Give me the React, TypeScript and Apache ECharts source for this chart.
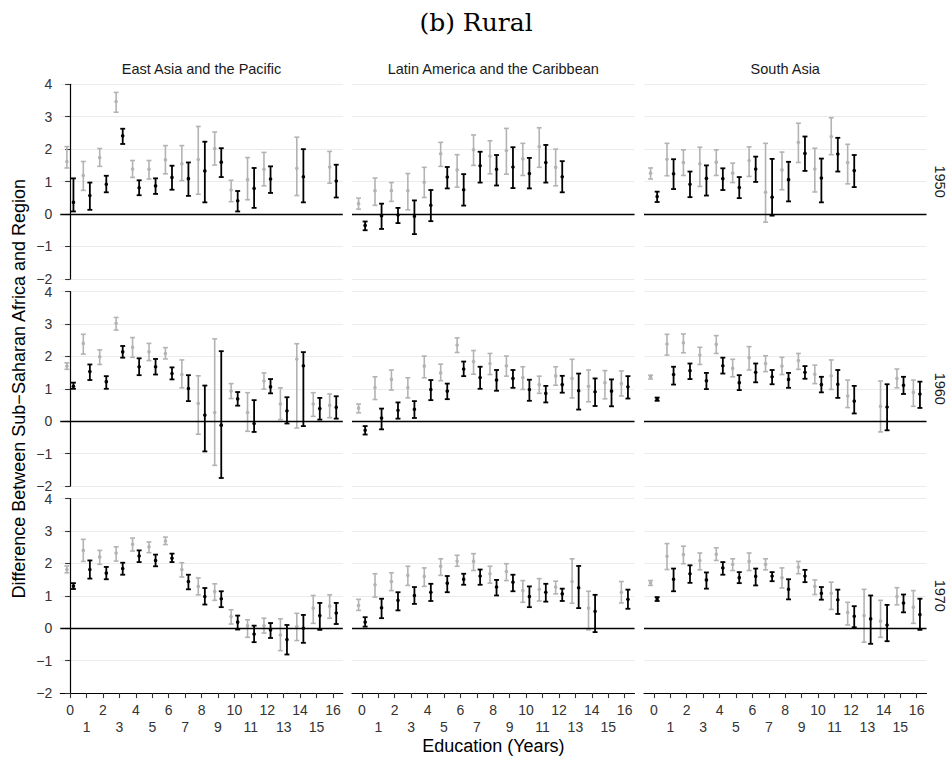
import React, { useEffect, useRef } from "react";
import * as echarts from "echarts";

// ---------- labels ----------
const chartTitle = "(b) Rural";
const regions = ["East Asia and the Pacific", "Latin America and the Caribbean", "South Asia"];
const cohorts = ["1950", "1960", "1970"];
const educationYears = [0, 1, 2, 3, 4, 5, 6, 7, 8, 9, 10, 11, 12, 13, 14, 15, 16];
const yTicks = [-2, -1, 0, 1, 2, 3, 4];
const yTitle = "Difference Between Sub\u2212Saharan Africa and Region";
const xTitle = "Education (Years)";

// ---------- data: [estimate, lower, upper] per education year ----------
// gray = first estimate, black = second estimate
const eap1950Gray = [[1.62,1.42,2.08],[1.19,0.73,1.62],[1.74,1.47,2.02],[3.47,3.14,3.75],[1.39,1.13,1.65],[1.38,1.08,1.65],[1.67,1.24,2.11],[1.55,1.03,2.11],[1.68,0.61,2.70],[2.02,1.51,2.53],[0.74,0.38,1.04],[1.06,0.44,1.74],[1.38,0.87,1.90],null,[1.41,0.57,2.37],null,[1.45,0.95,1.93]];
const eap1950Black = [[0.36,0.08,1.10],[0.57,0.13,0.97],[0.92,0.67,1.18],[2.41,2.16,2.63],[0.81,0.58,1.04],[0.87,0.62,1.10],[1.13,0.75,1.49],[1.09,0.56,1.59],[1.33,0.36,2.23],[1.60,1.14,2.03],[0.41,0.08,0.71],[0.79,0.19,1.42],[1.08,0.65,1.47],null,[1.15,0.36,2.00],null,[1.02,0.51,1.52]];
const lac1950Gray = [[0.32,0.15,0.49],[0.72,0.27,1.11],[0.72,0.39,0.97],[0.72,0.13,1.25],[0.98,0.51,1.44],[1.86,1.47,2.21],[1.36,0.83,1.83],[1.98,1.50,2.44],[1.79,1.24,2.26],[1.96,1.23,2.64],[1.70,1.19,2.18],[2.08,1.44,2.66],[1.44,0.87,2.00],null,null,null,null];
const lac1950Black = [[-0.35,-0.50,-0.23],[-0.05,-0.46,0.32],[-0.03,-0.28,0.19],[-0.07,-0.62,0.42],[0.27,-0.22,0.74],[1.14,0.79,1.45],[0.75,0.26,1.23],[1.49,0.97,1.92],[1.38,0.88,1.82],[1.45,0.80,2.06],[1.25,0.79,1.73],[1.59,0.97,2.13],[1.15,0.67,1.63],null,null,null,null];
const sa1950Gray = [[1.26,1.08,1.42],[1.69,1.18,2.18],[1.59,1.19,1.98],[1.55,0.85,2.06],[1.60,1.19,1.98],[1.26,0.97,1.57],[1.65,1.16,2.07],[0.67,-0.25,2.18],[1.36,0.75,1.91],[2.21,1.59,2.80],[1.39,0.68,2.03],[2.39,1.83,2.97],[1.59,0.93,2.15],null,null,null,null];
const sa1950Black = [[0.54,0.37,0.69],[1.24,0.77,1.69],[0.92,0.52,1.31],[1.10,0.57,1.50],[1.09,0.74,1.41],[0.82,0.49,1.14],[1.39,0.99,1.77],[0.52,-0.05,1.70],[1.06,0.39,1.61],[1.87,1.33,2.39],[1.11,0.36,1.71],[1.85,1.31,2.35],[1.34,0.83,1.82],null,null,null,null];

const eap1960Gray = [[1.70,1.60,1.80],[2.40,2.07,2.68],[1.99,1.75,2.20],[3.02,2.81,3.20],[2.28,1.97,2.58],[2.14,1.87,2.40],[2.09,1.92,2.27],[1.44,1.03,1.89],[0.55,-0.40,1.40],[0.27,-1.36,2.54],[0.93,0.70,1.16],[0.27,-0.31,0.88],[1.24,0.99,1.49],[0.53,0.05,1.03],[1.92,-0.21,2.39],[0.53,0.15,0.88],[0.49,0.11,0.84]];
const eap1960Black = [[1.08,1.00,1.19],[1.53,1.27,1.75],[1.22,1.00,1.39],[2.14,1.96,2.32],[1.68,1.42,1.94],[1.68,1.44,1.92],[1.47,1.29,1.66],[1.01,0.62,1.42],[0.19,-0.93,1.10],[-0.12,-1.75,2.16],[0.69,0.48,0.90],[-0.07,-0.33,0.65],[1.06,0.86,1.30],[0.32,-0.07,0.74],[1.71,-0.15,2.13],[0.39,0.05,0.72],[0.43,0.08,0.77]];
const lac1960Gray = [[0.41,0.26,0.53],[1.04,0.67,1.37],[1.29,0.96,1.58],[1.04,0.72,1.34],[1.70,1.34,2.01],[1.49,1.25,1.76],[2.35,2.12,2.57],[1.84,1.45,2.18],[1.78,1.44,2.09],[1.71,1.39,2.01],[1.35,0.98,1.68],[1.13,0.86,1.39],[1.40,1.11,1.68],[1.32,0.72,1.91],[1.08,0.60,1.58],[1.19,0.69,1.56],[1.16,0.78,1.55]];
const lac1960Black = [[-0.28,-0.41,-0.15],[0.10,-0.25,0.39],[0.34,0.08,0.58],[0.37,0.10,0.62],[0.98,0.65,1.27],[0.93,0.68,1.16],[1.61,1.39,1.84],[1.35,1.00,1.68],[1.27,0.94,1.58],[1.32,1.03,1.58],[0.98,0.63,1.28],[0.86,0.58,1.09],[1.13,0.88,1.40],[0.94,0.36,1.47],[0.91,0.47,1.32],[0.93,0.46,1.29],[1.06,0.70,1.39]];
const sa1960Gray = [[1.37,1.30,1.42],[2.38,2.04,2.68],[2.42,2.11,2.69],[2.04,1.75,2.28],[2.37,2.09,2.64],[1.63,1.37,1.91],[1.96,1.58,2.30],[1.78,1.53,2.02],[1.70,1.44,1.97],[1.87,1.60,2.09],[1.45,1.16,1.73],[1.40,0.98,1.89],[0.78,0.42,1.27],null,[0.46,-0.33,1.24],[1.32,1.03,1.61],[0.89,0.46,1.27]];
const sa1960Black = [[0.68,0.63,0.73],[1.44,1.13,1.68],[1.56,1.30,1.78],[1.25,0.99,1.49],[1.71,1.47,1.96],[1.19,0.96,1.42],[1.51,1.20,1.78],[1.37,1.14,1.58],[1.29,1.03,1.49],[1.51,1.31,1.70],[1.13,0.89,1.37],[1.14,0.72,1.58],[0.62,0.24,1.09],null,[0.44,-0.28,1.14],[1.11,0.84,1.37],[0.84,0.41,1.22]];

const eap1970Gray = [[1.81,1.71,1.92],[2.40,2.06,2.74],[2.20,1.97,2.40],[2.32,2.07,2.51],[2.59,2.38,2.78],[2.51,2.33,2.66],[2.69,2.58,2.81],[1.81,1.58,2.02],[1.29,1.03,1.55],[1.13,0.86,1.37],[0.36,0.13,0.57],[0.08,-0.28,0.26],[0.08,-0.15,0.31],[-0.21,-0.69,0.29],[0.05,-0.38,0.46],[0.62,0.15,1.01],[0.68,0.31,1.03]];
const eap1970Black = [[1.30,1.21,1.39],[1.81,1.53,2.09],[1.70,1.51,1.89],[1.84,1.65,2.02],[2.23,2.04,2.40],[2.09,1.91,2.27],[2.16,2.04,2.30],[1.44,1.20,1.65],[0.98,0.73,1.24],[0.91,0.65,1.14],[0.19,-0.04,0.39],[-0.18,-0.43,0.08],[-0.05,-0.30,0.16],[-0.35,-0.81,0.10],[0.00,-0.45,0.41],[0.39,-0.05,0.78],[0.47,0.13,0.78]];
const lac1970Gray = [[0.70,0.55,0.89],[1.34,0.96,1.68],[1.44,1.16,1.71],[1.63,1.32,1.91],[1.60,1.29,1.86],[1.91,1.63,2.14],[2.07,1.91,2.25],[2.06,1.78,2.30],[1.68,1.39,1.91],[1.75,1.47,1.99],[1.16,0.80,1.47],[1.20,0.84,1.53],[1.27,1.06,1.45],[1.44,0.77,2.14],[0.62,-0.05,1.14],null,[1.11,0.78,1.44]];
const lac1970Black = [[0.19,0.05,0.34],[0.63,0.31,0.91],[0.86,0.55,1.11],[1.01,0.75,1.27],[1.11,0.84,1.37],[1.39,1.11,1.61],[1.51,1.34,1.68],[1.61,1.34,1.81],[1.27,1.01,1.49],[1.42,1.14,1.65],[0.98,0.65,1.29],[1.11,0.82,1.37],[1.06,0.84,1.22],[1.25,0.62,1.92],[0.52,-0.12,1.03],null,[0.89,0.60,1.19]];
const sa1970Gray = [[1.40,1.32,1.47],[2.22,1.81,2.61],[2.27,1.99,2.53],[2.09,1.80,2.32],[2.28,2.09,2.48],[1.97,1.78,2.14],[2.06,1.78,2.32],[1.97,1.80,2.14],[1.56,1.24,1.86],[1.89,1.68,2.06],[1.29,1.04,1.49],[1.08,0.58,1.42],[0.49,0.10,0.80],[0.39,-0.43,1.20],[0.22,-0.28,0.86],[0.98,0.72,1.25],[0.65,0.15,1.16]];
const sa1970Black = [[0.91,0.84,0.96],[1.51,1.14,1.84],[1.68,1.40,1.94],[1.49,1.22,1.72],[1.86,1.65,2.04],[1.56,1.39,1.73],[1.60,1.32,1.84],[1.61,1.45,1.73],[1.20,0.89,1.51],[1.61,1.42,1.80],[1.08,0.88,1.27],[0.88,0.44,1.19],[0.37,0.03,0.68],[0.29,-0.48,1.01],[0.10,-0.40,0.72],[0.78,0.49,1.04],[0.42,-0.05,0.91]];

// rows = cohorts, columns = regions
const panels = [
  [[eap1950Gray, eap1950Black], [lac1950Gray, lac1950Black], [sa1950Gray, sa1950Black]],
  [[eap1960Gray, eap1960Black], [lac1960Gray, lac1960Black], [sa1960Gray, sa1960Black]],
  [[eap1970Gray, eap1970Black], [lac1970Gray, lac1970Black], [sa1970Gray, sa1970Black]],
];

// ---------- layout / style ----------
const PANEL_LEFT = [60.3, 352, 644];
const PANEL_W = 282.5;
const PANEL_TOP = [84.3, 291.5, 498.5];
const PANEL_H = 194.6;
const GRAY = "#b3b3b3";
const BLACK = "#000000";
const DODGE = 0.2;
const CAP = 0.3;
const SANS = "Liberation Sans, Arial, sans-serif";
const TICK_TEXT = "#333333";

function makeRender(offset: number, color: string, lw: number) {
  return (params: any, api: any) => {
    const x = api.value(0) + offset;
    const pE = api.coord([x, api.value(1)]);
    const pL = api.coord([x, api.value(2)]);
    const pH = api.coord([x, api.value(3)]);
    const half = api.size([CAP, 0])[0] / 2;
    const style = { stroke: color, lineWidth: lw, fill: null };
    return {
      type: "group",
      children: [
        { type: "line", shape: { x1: pL[0], y1: pL[1], x2: pH[0], y2: pH[1] }, style },
        { type: "line", shape: { x1: pL[0] - half, y1: pL[1], x2: pL[0] + half, y2: pL[1] }, style },
        { type: "line", shape: { x1: pH[0] - half, y1: pH[1], x2: pH[0] + half, y2: pH[1] }, style },
        { type: "circle", shape: { cx: pE[0], cy: pE[1], r: 1.8 }, style: { fill: color, stroke: null } },
      ],
    };
  };
}

function toRows(arr: any[]) {
  const out: number[][] = [];
  educationYears.forEach((e, k) => {
    const r = arr[k];
    if (r) out.push([e, r[0], r[1], r[2]]);
  });
  return out;
}

function buildOption() {
  const grid: any[] = [];
  const xAxis: any[] = [];
  const yAxis: any[] = [];
  const series: any[] = [];
  const graphic: any[] = [];

  for (let r = 0; r < 3; r++) {
    for (let c = 0; c < 3; c++) {
      const i = r * 3 + c;
      const isBottom = r === 2;
      const isLeft = c === 0;
      grid.push({ left: PANEL_LEFT[c], top: PANEL_TOP[r], width: PANEL_W, height: PANEL_H, containLabel: false });
      xAxis.push({
        gridIndex: i,
        type: "value",
        min: -0.6,
        max: 16.6,
        splitLine: { show: false },
        axisLine: { show: isBottom, onZero: false, lineStyle: { color: BLACK, width: 1.2 } },
        axisTick: { show: isBottom, customValues: educationYears, length: 5, lineStyle: { color: "#333333", width: 1.1 } },
        axisLabel: {
          show: isBottom,
          customValues: educationYears,
          margin: 8,
          lineHeight: 17.5,
          fontSize: 14,
          fontFamily: SANS,
          color: TICK_TEXT,
          formatter: (v: number) => {
            const n = Math.round(v);
            return n % 2 === 1 ? "\n" + n : String(n);
          },
        },
      });
      yAxis.push({
        gridIndex: i,
        type: "value",
        min: yTicks[0],
        max: yTicks[yTicks.length - 1],
        interval: 1,
        splitLine: { show: true, lineStyle: { color: "#ebebeb", width: 1.1 } },
        axisLine: { show: isLeft, lineStyle: { color: BLACK, width: 1.2 } },
        axisTick: { show: isLeft, length: 5, lineStyle: { color: "#333333", width: 1.1 } },
        axisLabel: {
          show: isLeft,
          margin: 8,
          fontSize: 14,
          fontFamily: SANS,
          color: TICK_TEXT,
          formatter: (v: number) => String(v).replace("-", "\u2212"),
        },
      });
      const [grayArr, blackArr] = panels[r][c];
      series.push({
        type: "custom",
        xAxisIndex: i,
        yAxisIndex: i,
        renderItem: makeRender(-DODGE, GRAY, 1.6),
        encode: { x: 0, y: [1, 2, 3] },
        data: toRows(grayArr),
        z: 2,
        markLine: {
          silent: true,
          symbol: ["none", "none"],
          label: { show: false },
          lineStyle: { color: BLACK, width: 1.3, type: "solid" },
          data: [{ yAxis: 0 }],
        },
      });
      series.push({
        type: "custom",
        xAxisIndex: i,
        yAxisIndex: i,
        renderItem: makeRender(DODGE, BLACK, 1.8),
        encode: { x: 0, y: [1, 2, 3] },
        data: toRows(blackArr),
        z: 3,
      });
    }
  }

  const txt = (text: string, x: number, y: number, font: string, rotation = 0, fill = "#1a1a1a") => ({
    type: "text",
    x,
    y,
    rotation,
    style: {
      text,
      font,
      fill,
      align: "center",
      verticalAlign: "middle",
      textAlign: "center",
      textVerticalAlign: "middle",
    },
  });

  graphic.push(txt(chartTitle, 476, 22, "25px 'DejaVu Serif', serif", 0, "#000"));
  regions.forEach((name, c) => {
    graphic.push(txt(name, PANEL_LEFT[c] + PANEL_W / 2, 69, `14.5px ${SANS}`));
  });
  cohorts.forEach((name, r) => {
    graphic.push(txt(name, 940, PANEL_TOP[r] + PANEL_H / 2, `14.5px ${SANS}`, -Math.PI / 2));
  });
  graphic.push(txt(yTitle, 19, PANEL_TOP[0] + (PANEL_TOP[2] + PANEL_H - PANEL_TOP[0]) / 2, `18px ${SANS}`, Math.PI / 2, "#000"));
  graphic.push(txt(xTitle, PANEL_LEFT[0] + (PANEL_LEFT[2] + PANEL_W - PANEL_LEFT[0]) / 2, 746, `18px ${SANS}`, 0, "#000"));

  return {
    animation: false,
    backgroundColor: "#ffffff",
    grid,
    xAxis,
    yAxis,
    series,
    graphic,
  };
}

export default function App() {
  const ref = useRef<HTMLDivElement>(null);
  useEffect(() => {
    document.body.style.margin = "0";
    if (!ref.current) return;
    const chart = echarts.init(ref.current, null, { renderer: "svg" });
    chart.setOption(buildOption() as any);
    return () => chart.dispose();
  }, []);
  return <div ref={ref} style={{ width: 952, height: 760 }} />;
}
